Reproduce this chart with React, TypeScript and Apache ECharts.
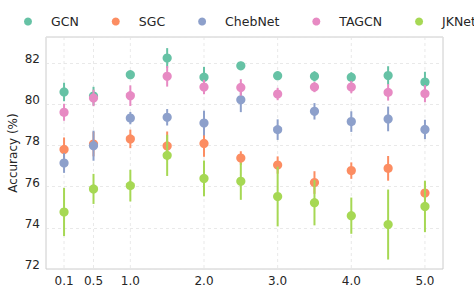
import React, { useEffect, useRef } from "react";
import * as echarts from "echarts";

const xValues = [0.1, 0.5, 1.0, 1.5, 2.0, 2.5, 3.0, 3.5, 4.0, 4.5, 5.0];
const xTicks = [0.1, 0.5, 1.0, 2.0, 3.0, 4.0, 5.0];
const yTicks = [72, 74, 76, 78, 80, 82];
const models = ["GCN", "SGC", "ChebNet", "TAGCN", "JKNet"];
const colors = ["#66c2a5", "#fc8d62", "#8da0cb", "#e78ac3", "#a6d854"];

const gcnMean = [80.4, 80.2, 81.24, 82.05, 81.12, 81.67, 81.19, 81.16, 81.11, 81.2, 80.88];
const gcnErr = [0.45, 0.45, 0.1, 0.48, 0.5, 0.2, 0.2, 0.25, 0.25, 0.45, 0.5];
const sgcMean = [77.61, 77.87, 78.12, 77.78, 77.9, 77.19, 76.85, 76.0, 76.58, 76.69, 75.49];
const sgcErr = [0.58, 0.6, 0.45, 0.7, 0.65, 0.33, 0.42, 0.55, 0.4, 0.6, 0.55];
const chebMean = [76.95, 77.79, 79.13, 79.17, 78.89, 80.02, 78.57, 79.46, 78.96, 79.09, 78.58];
const chebErr = [0.48, 0.73, 0.3, 0.4, 0.6, 0.6, 0.5, 0.4, 0.5, 0.6, 0.47];
const tagMean = [79.41, 80.11, 80.22, 81.16, 80.64, 80.62, 80.3, 80.64, 80.64, 80.38, 80.32];
const tagErr = [0.41, 0.4, 0.5, 0.5, 0.35, 0.4, 0.3, 0.25, 0.3, 0.4, 0.42];
const jkMean = [74.57, 75.69, 75.85, 77.32, 76.2, 76.06, 75.32, 75.02, 74.39, 73.96, 74.84];
const jkErr = [1.17, 0.73, 0.77, 1.0, 0.87, 0.9, 1.45, 1.1, 0.88, 1.7, 1.25];

const means = [gcnMean, sgcMean, chebMean, tagMean, jkMean];
const errs = [gcnErr, sgcErr, chebErr, tagErr, jkErr];

const FONT = "DejaVu Sans";
const GRID_COLOR = "#e3e3e3";
const GRID_DASH = [3, 3];

export default function App() {
  const ref = useRef<HTMLDivElement>(null);
  useEffect(() => {
    document.body.style.margin = "0";
    if (!ref.current) return;
    const chart = echarts.init(ref.current, undefined, { renderer: "svg" });
    const series: any[] = [
      {
        name: "grid-x",
        type: "custom",
        z: 1,
        silent: true,
        data: xTicks.map((x) => [x]),
        encode: { x: 0 },
        renderItem: (params: any, api: any) => {
          const cs = params.coordSys;
          const px = api.coord([api.value(0), 80])[0];
          return {
            type: "line",
            shape: { x1: px, y1: cs.y, x2: px, y2: cs.y + cs.height },
            style: { stroke: GRID_COLOR, lineWidth: 0.8, lineDash: GRID_DASH },
          };
        },
      },
    ];
    models.forEach((name, si) => {
      series.push({
        name,
        type: "custom",
        z: 3,
        itemStyle: { color: colors[si] },
        data: xValues.map((x, i) => [x, means[si][i], errs[si][i]]),
        renderItem: (params: any, api: any) => {
          const x = api.value(0);
          const y = api.value(1);
          const e = api.value(2);
          const c = api.coord([x, y]);
          const top = api.coord([x, y + e]);
          const bot = api.coord([x, y - e]);
          return {
            type: "group",
            children: [
              {
                type: "line",
                shape: { x1: c[0], y1: top[1], x2: c[0], y2: bot[1] },
                style: { stroke: colors[si], lineWidth: 2 },
              },
              {
                type: "circle",
                shape: { cx: c[0], cy: c[1], r: 4.6 },
                style: { fill: colors[si] },
              },
            ],
          };
        },
      });
    });
    chart.setOption({
      animation: false,
      backgroundColor: "#ffffff",
      textStyle: { fontFamily: FONT },
      legend: {
        data: models.map((m, i) => ({ name: m, icon: "circle", itemStyle: { color: colors[i] } })),
        left: 19,
        top: 10,
        width: 800,
        itemWidth: 8,
        itemHeight: 8,
        itemGap: 33,
        textStyle: { fontFamily: FONT, fontSize: 12.5, color: "#262626", padding: [0, 0, 0, 14] },
      },
      grid: {
        left: 46,
        right: 31,
        top: 37,
        bottom: 19,
        containLabel: false,
        outerBoundsMode: "none",
        show: true,
        borderColor: "#cccccc",
        borderWidth: 1,
      },
      xAxis: {
        type: "value",
        min: -0.145,
        max: 5.245,
        axisLine: { show: false },
        axisTick: { show: false, customValues: xTicks },
        axisLabel: {
          customValues: xTicks,
          formatter: (v: number) => v.toFixed(1),
          fontFamily: FONT,
          fontSize: 12,
          color: "#262626",
          margin: 6,
        },
        splitLine: { show: false },
      },
      yAxis: {
        type: "value",
        min: 71.8,
        max: 83.07,
        interval: 2,
        name: "Accuracy (%)",
        nameLocation: "middle",
        nameGap: 27,
        nameMoveOverlap: false,
        nameTextStyle: { fontFamily: FONT, fontSize: 12, color: "#262626" },
        axisLine: { show: false },
        axisTick: { show: false },
        axisLabel: {
          customValues: yTicks,
          fontFamily: FONT,
          fontSize: 12,
          color: "#262626",
          margin: 6,
        },
        splitLine: { show: true, lineStyle: { color: GRID_COLOR, type: GRID_DASH, width: 0.8 } },
      },
      series,
    });
    return () => chart.dispose();
  }, []);
  return <div ref={ref} style={{ width: 474, height: 288 }} />;
}
